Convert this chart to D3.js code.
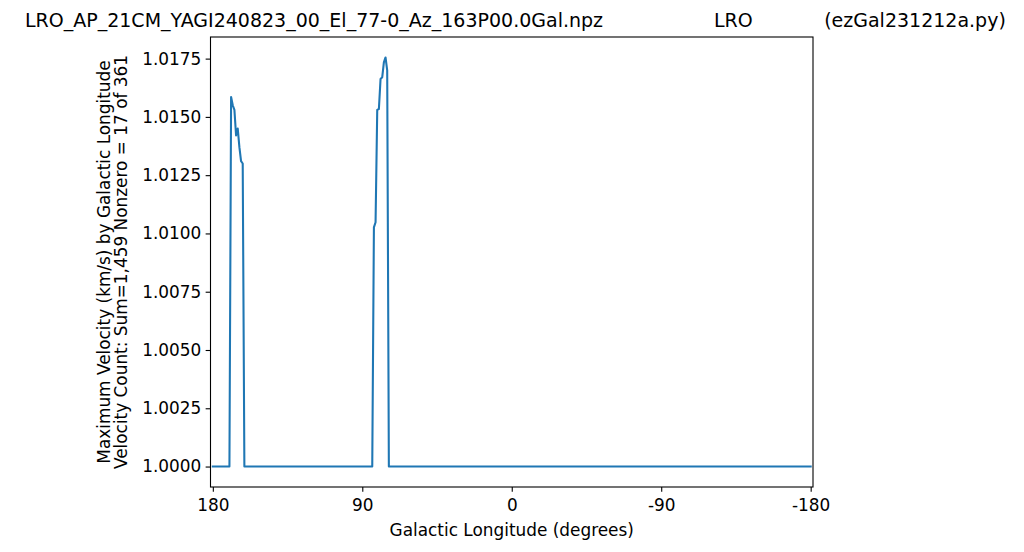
<!DOCTYPE html>
<html>
<head>
<meta charset="utf-8">
<script src="https://cdn.jsdelivr.net/npm/d3@7/dist/d3.min.js"></script>
<style>
  html, body { margin: 0; padding: 0; background: #fff; }
  svg { display: block; }
  text { font-family: "DejaVu Sans", sans-serif; fill: #000; }
</style>
</head>
<body>
<svg id="chart" width="1024" height="552"></svg>
<script>
// ---- data ----
const titleMain = "LRO_AP_21CM_YAGI240823_00_El_77-0_Az_163P00.0Gal.npz";
const titleMid = "LRO";
const titleRight = "(ezGal231212a.py)";
const yLabel1 = "Maximum Velocity (km/s) by Galactic Longitude";
const yLabel2 = "Velocity Count: Sum=1,459 Nonzero = 17 of 361";
const xLabel = "Galactic Longitude (degrees)";

// galactic longitudes, 180 down to -180 (361 bins)
const longitudes = d3.range(180, -181, -1);
const baseValue = 1.0;
// bins with nonzero velocity counts
const peakLongitudes = [169, 168, 167, 166, 165, 164, 163, 162,
                        83, 82, 81, 80, 79, 78, 77, 76, 75];
const peakValues = [1.01585, 1.01550, 1.01530, 1.01420, 1.01450, 1.01370, 1.01310, 1.01300,
                    1.01026, 1.01048, 1.01530, 1.01534, 1.01663, 1.01670, 1.01734, 1.01755, 1.01700];

const xTickValues = [180, 90, 0, -90, -180];
const xTickLabels = ["180", "90", "0", "-90", "-180"];
const yTickValues = [1.0000, 1.0025, 1.0050, 1.0075, 1.0100, 1.0125, 1.0150, 1.0175];

// ---- build series ----
const peakMap = new Map(peakLongitudes.map((l, i) => [l, peakValues[i]]));
const series = longitudes.map(l => ({ lon: l, v: peakMap.has(l) ? peakMap.get(l) : baseValue }));

// ---- layout ----
const svg = d3.select("#chart");
const L = 210.5, R = 813, T = 37, B = 487;
const labelSize = "16.9px";

const x = d3.scaleLinear().domain([181.4, -181.4]).range([L, R]);
const yMin = d3.min(series, d => d.v), yMax = d3.max(series, d => d.v);
const pad = (yMax - yMin) * 0.05;
const y = d3.scaleLinear().domain([yMin - pad, yMax + pad]).range([B, T]);

// line
svg.append("path")
  .datum(series)
  .attr("fill", "none")
  .attr("stroke", "#1f77b4")
  .attr("stroke-width", 2.08)
  .attr("stroke-linejoin", "round")
  .attr("stroke-linecap", "square")
  .attr("d", d3.line().x(d => x(d.lon)).y(d => y(d.v)));

// axes
const xAxis = d3.axisBottom(x).tickValues(xTickValues)
  .tickFormat((d, i) => xTickLabels[i]).tickSize(4.86).tickPadding(7.5).tickSizeOuter(0);
const yAxis = d3.axisLeft(y).tickValues(yTickValues)
  .tickFormat(d3.format(".4f")).tickSize(4.86).tickPadding(4.4).tickSizeOuter(0);

const gx = svg.append("g").attr("transform", `translate(0,${B})`).call(xAxis);
const gy = svg.append("g").attr("transform", `translate(${L},0)`).call(yAxis);
[gx, gy].forEach(g => {
  g.select(".domain").remove();
  g.selectAll(".tick line").attr("stroke", "#000").attr("stroke-width", 1.1);
  g.selectAll(".tick text").attr("font-size", labelSize).attr("fill", "#000")
    .attr("font-family", "DejaVu Sans, sans-serif");
});

// frame
svg.append("rect")
  .attr("x", L).attr("y", T).attr("width", R - L).attr("height", B - T)
  .attr("fill", "none").attr("stroke", "#000").attr("stroke-width", 1.1);

// title
const title = svg.append("text").attr("font-size", "19px").attr("y", 27);
title.append("tspan").attr("x", 25).text(titleMain);
title.append("tspan").attr("x", 714).text(titleMid);
title.append("tspan").attr("x", 915).attr("text-anchor", "middle").text(titleRight);

// x label
svg.append("text")
  .attr("x", (L + R) / 2).attr("y", 536)
  .attr("text-anchor", "middle").attr("font-size", labelSize)
  .text(xLabel);

// y labels
const cy = (T + B) / 2;
svg.append("text")
  .attr("transform", `translate(110,${cy}) rotate(-90)`)
  .attr("text-anchor", "middle").attr("font-size", labelSize)
  .text(yLabel1);
svg.append("text")
  .attr("transform", `translate(127,${cy}) rotate(-90)`)
  .attr("text-anchor", "middle").attr("font-size", labelSize)
  .text(yLabel2);
</script>
</body>
</html>
